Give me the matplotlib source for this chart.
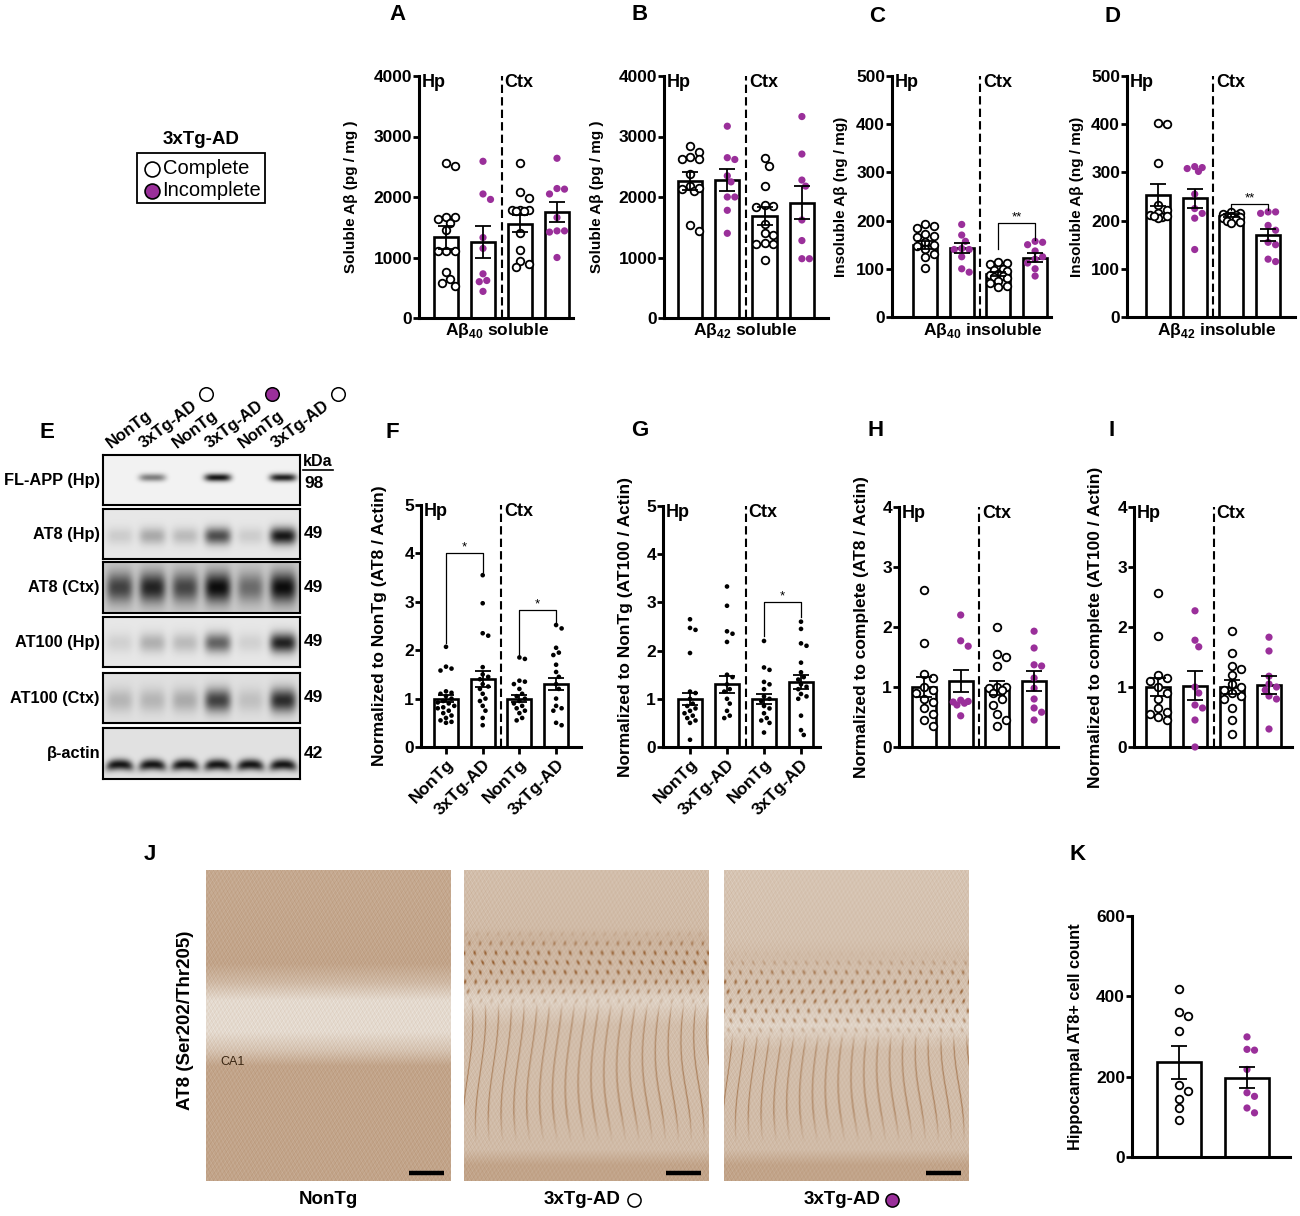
import numpy as np
import matplotlib
matplotlib.use("Agg")
import matplotlib.pyplot as plt
from matplotlib.patches import Rectangle

plt.rcParams['font.family'] = ['Liberation Sans', 'DejaVu Sans']
plt.rcParams['font.weight'] = 'bold'
plt.rcParams['mathtext.fontset'] = 'custom'
plt.rcParams['mathtext.rm'] = 'Liberation Sans:bold'
plt.rcParams['mathtext.bf'] = 'Liberation Sans:bold'

W, H = 1300, 1216
PURPLE = '#9a2f9a'

# ---------------- data ----------------
# A: soluble Abeta40 (pg/mg)  order: Hp complete, Hp incomplete, Ctx complete, Ctx incomplete
A_hp_c = [2510, 2560, 1670, 1640, 1670, 1570, 1450, 1110, 1110, 1110, 760, 650, 530, 580]
A_hp_i = [2590, 2050, 1960, 1330, 1150, 730, 620, 600, 440]
A_ctx_c = [2570, 2080, 1990, 1790, 1780, 1790, 1770, 1770, 1400, 1130, 950, 900, 840]
A_ctx_i = [2640, 2140, 2130, 2050, 1660, 1440, 1440, 1420, 1000]
A_mean = [1335, 1260, 1560, 1755]
A_sem = [190, 260, 140, 165]

# B: soluble Abeta42 (pg/mg)
B_hp_c = [2840, 2740, 2620, 2660, 2620, 2380, 2180, 2100, 2140, 2150, 1530, 1440]
B_hp_i = [3170, 2620, 2650, 2350, 2250, 2000, 2000, 1780, 1400]
B_ctx_c = [2640, 2520, 2180, 1870, 1840, 1850, 1560, 1400, 1380, 1240, 1220, 1230, 960]
B_ctx_i = [3330, 2710, 2280, 2180, 1620, 1280, 980, 980]
B_mean = [2260, 2280, 1685, 1905]
B_sem = [150, 180, 145, 270]

# C: insoluble Abeta40 (ng/mg)
C_hp_c = [192, 185, 188, 172, 168, 165, 155, 150, 148, 142, 130, 125, 102]
C_hp_i = [192, 170, 157, 142, 140, 140, 125, 100, 93]
C_ctx_c = [114, 112, 110, 100, 98, 95, 90, 88, 85, 82, 80, 75, 70, 65, 62]
C_ctx_i = [157, 155, 150, 137, 125, 120, 112, 100, 85]
C_mean = [150, 143, 89, 123]
C_sem = [8, 10, 4, 9]

# D: insoluble Abeta42 (ng/mg)
D_hp_c = [400, 402, 320, 232, 222, 215, 212, 208, 210, 205, 210]
D_hp_i = [310, 308, 312, 302, 255, 225, 215, 205, 140]
D_ctx_c = [218, 215, 214, 212, 210, 210, 208, 205, 203, 200, 198, 195]
D_ctx_i = [218, 218, 215, 190, 180, 155, 150, 120, 115]
D_mean = [253, 246, 210, 170]
D_sem = [22, 20, 3, 13]

# F: AT8 / actin, normalized to NonTg  order: Hp NonTg, Hp 3xTg, Ctx NonTg, Ctx 3xTg
F_hp_ntg = [2.07, 1.66, 1.62, 1.58, 1.15, 1.12, 1.1, 1.05, 1.0, 0.95, 0.92, 0.9, 0.85,
            0.82, 0.8, 0.75, 0.7, 0.65, 0.6, 0.55, 0.5, 0.52]
F_hp_tg = [3.55, 2.97, 2.35, 2.3, 1.65, 1.5, 1.45, 1.4, 1.3, 1.25, 1.2, 1.1, 1.0, 0.95,
           0.85, 0.75, 0.6, 0.45]
F_ctx_ntg = [1.85, 1.82, 1.37, 1.35, 1.3, 1.2, 1.1, 1.05, 1.0, 0.95, 0.9, 0.85, 0.8,
             0.75, 0.7, 0.6, 0.55]
F_ctx_tg = [2.52, 2.45, 2.05, 1.95, 1.9, 1.7, 1.55, 1.45, 1.3, 1.2, 1.0, 0.85, 0.8,
            0.75, 0.5, 0.45]
F_mean = [1.0, 1.4, 1.0, 1.3]
F_sem = [0.08, 0.16, 0.07, 0.13]

# G: AT100 / actin, normalized to NonTg
G_hp_ntg = [2.65, 2.47, 2.43, 1.95, 1.15, 1.12, 1.0, 0.9, 0.85, 0.8, 0.75, 0.7, 0.65,
            0.6, 0.55, 0.5, 0.15]
G_hp_tg = [3.33, 2.93, 2.4, 2.35, 2.18, 1.5, 1.45, 1.3, 1.2, 1.15, 1.0, 0.9, 0.75, 0.65, 0.6]
G_ctx_ntg = [2.2, 1.65, 1.6, 1.35, 1.3, 1.2, 1.05, 1.0, 0.95, 0.85, 0.8, 0.7, 0.6, 0.55,
             0.5, 0.3]
G_ctx_tg = [2.6, 2.45, 2.15, 2.1, 1.75, 1.55, 1.45, 1.4, 1.3, 1.25, 1.2, 1.1, 1.05, 1.0,
            0.65, 0.35, 0.25]
G_mean = [1.0, 1.3, 1.0, 1.35]
G_sem = [0.13, 0.17, 0.1, 0.14]

# H: AT8 / actin, normalized to complete
H_hp_c = [2.62, 1.73, 1.22, 1.15, 1.0, 0.95, 0.9, 0.8, 0.75, 0.65, 0.55, 0.45, 0.35]
H_hp_i = [2.2, 1.77, 1.68, 0.78, 0.76, 0.75, 0.73, 0.7, 0.52]
H_ctx_c = [2.0, 1.55, 1.5, 1.35, 1.0, 1.0, 0.98, 0.95, 0.9, 0.8, 0.7, 0.55, 0.45, 0.35]
H_ctx_i = [1.93, 1.65, 1.37, 1.35, 1.15, 0.98, 0.8, 0.65, 0.58, 0.45]
H_mean = [1.0, 1.1, 0.98, 1.1]
H_sem = [0.16, 0.19, 0.12, 0.17]

# I: AT100 / actin, normalized to complete
I_hp_c = [2.57, 1.85, 1.2, 1.15, 1.1, 1.0, 0.9, 0.8, 0.65, 0.58, 0.55, 0.5, 0.45]
I_hp_i = [2.27, 1.78, 1.67, 1.0, 0.9, 0.7, 0.65, 0.45, 0.0]
I_ctx_c = [1.93, 1.57, 1.35, 1.3, 1.2, 1.05, 1.0, 0.95, 0.9, 0.85, 0.8, 0.65, 0.45, 0.22]
I_ctx_i = [1.83, 1.6, 1.18, 1.05, 1.0, 0.95, 0.85, 0.8, 0.3]
I_mean = [1.0, 1.02, 1.0, 1.04]
I_sem = [0.15, 0.24, 0.12, 0.15]

# K: hippocampal AT8+ cell count
K_c = [418, 352, 362, 313, 180, 165, 145, 122, 91]
K_i = [299, 268, 266, 218, 160, 151, 122, 110]
K_mean = [236, 197]
K_sem = [41, 26]

# E: western blot band darkness per lane (0 = none, 1 = saturated)
blot_rows = ['FL-APP (Hp)', 'AT8 (Hp)', 'AT8 (Ctx)', 'AT100 (Hp)', 'AT100 (Ctx)', 'β-actin']
blot_kda = ['98', '49', '49', '49', '49', '42']
band_fl_app = [0.0, 0.5, 0.0, 0.95, 0.0, 0.9]
band_at8_hp = [0.12, 0.28, 0.2, 0.7, 0.12, 0.95]
band_at8_ctx = [0.72, 0.88, 0.7, 1.0, 0.5, 1.0]
band_at100_hp = [0.1, 0.25, 0.2, 0.6, 0.1, 0.9]
band_at100_ctx = [0.2, 0.2, 0.25, 0.75, 0.15, 0.85]
band_actin = [0.95, 0.95, 0.95, 0.95, 0.95, 0.95]
lane_labels = ['NonTg', '3xTg-AD', 'NonTg', '3xTg-AD', 'NonTg', '3xTg-AD']
lane_marks = [None, 'open', None, 'purple', None, 'open']

fig = plt.figure(figsize=(W / 100, H / 100), dpi=100)


def px_axes(l, t, r, b):
    return fig.add_axes([l / W, 1 - b / H, (r - l) / W, (b - t) / H])


def swarm(vals, h_px, ymax, diam, maxoff):
    # simple beeswarm in pixel space, kept inside the bar
    ys = np.asarray(vals, float) / ymax * h_px
    offs = np.zeros(len(ys))
    placed = []
    step = diam * 0.5
    n = int(maxoff // step)
    cands = [0.0]
    for k in range(1, n + 1):
        cands += [k * step, -k * step]
    for i in np.argsort(-ys):
        best, bestd = 0.0, -1.0
        for cand in cands:
            md = min([np.hypot(cand - px, ys[i] - py) for px, py in placed] or [1e9])
            if md >= diam * 0.92:
                best = cand
                break
            if md > bestd:
                best, bestd = cand, md
        placed.append((best, ys[i]))
        offs[i] = best
    return offs


def bar_panel(rect, bar0, sp, groups, kinds, means, sems, ymax, yticks, ylabel,
              ylabel_x, regions=True, width=0.65, ylab_size=11):
    l, t, r, b = rect
    ax = px_axes(l, t, r, b)
    ax.set_xlim((l - bar0) / sp, (r - bar0) / sp)
    ax.set_ylim(0, ymax)
    xs = np.arange(len(groups))
    ax.bar(xs, means, width=width, facecolor='white', edgecolor='black', linewidth=1.9, zorder=2)
    h_px = b - t
    for x, vals, kind in zip(xs, groups, kinds):
        d = {'open': 8.5, 'purple': 7.5}.get(kind, 5.5)
        offs = swarm(vals, h_px, ymax, d, width * sp * 0.42) / sp
        if kind == 'open':
            ax.scatter(x + offs, vals, s=30, facecolors='white', edgecolors='black',
                       linewidths=1.3, zorder=3, clip_on=False)
        elif kind == 'purple':
            ax.scatter(x + offs, vals, s=27, c=PURPLE, edgecolors='none', zorder=3, clip_on=False)
        else:
            ax.scatter(x + offs, vals, s=11, c='black', edgecolors='none', zorder=3, clip_on=False)
    ax.errorbar(xs, means, yerr=sems, fmt='none', ecolor='black', elinewidth=1.3,
                capsize=5.5, capthick=1.3, zorder=4)
    for s in ['top', 'right']:
        ax.spines[s].set_visible(False)
    for s in ['left', 'bottom']:
        ax.spines[s].set_linewidth(2.2)
    ax.set_yticks(yticks)
    ax.set_yticklabels([str(v) for v in yticks])
    ax.tick_params(axis='y', length=4, width=2, labelsize=12.5, pad=1)
    ax.tick_params(axis='x', bottom=False, labelbottom=False)
    ax.set_ylabel(ylabel, fontsize=ylab_size, fontweight='bold')
    # label x given as the centre of the rotated text
    ax.yaxis.set_label_coords((ylabel_x + 0.5 * ylab_size - l) / (r - l), 0.5)
    if regions:
        ax.axvline(1.5, color='black', lw=1.5, dashes=(4, 2), zorder=1)
        x0 = ax.get_xlim()[0]
        ax.text(x0 + 0.08, ymax * 1.01, 'Hp', ha='left', va='top', fontsize=13)
        ax.text(1.58, ymax * 1.01, 'Ctx', ha='left', va='top', fontsize=13)
    return ax


def bracket(ax, i, j, y, yl, yr, label):
    ax.plot([i, i, j, j], [yl, y, y, yr], color='black', lw=0.9, zorder=5)
    ax.text((i + j) / 2, y, label, ha='center', va='bottom', fontsize=9.5, fontweight='normal')


def fig_text(x, y, s, **kw):
    fig.text(x / W, 1 - y / H, s, **kw)


four = ['open', 'purple', 'open', 'purple']
dots = ['dot', 'dot', 'dot', 'dot']

# ---------------- row 1 ----------------
axA = bar_panel((419, 76, 573, 318), 446, 37, [A_hp_c, A_hp_i, A_ctx_c, A_ctx_i], four,
                A_mean, A_sem, 4000, [0, 1000, 2000, 3000, 4000], 'Soluble Aβ (pg / mg )', 353)
axB = bar_panel((664, 76, 828, 318), 690, 37.3, [B_hp_c, B_hp_i, B_ctx_c, B_ctx_i], four,
                B_mean, B_sem, 4000, [0, 1000, 2000, 3000, 4000], 'Soluble Aβ (pg / mg )', 599)
axC = bar_panel((892, 76, 1051, 317), 925, 36.7, [C_hp_c, C_hp_i, C_ctx_c, C_ctx_i], four,
                C_mean, C_sem, 500, [0, 100, 200, 300, 400, 500], 'Insoluble Aβ (ng / mg)', 843)
axD = bar_panel((1127, 76, 1295, 317), 1158, 36.7, [D_hp_c, D_hp_i, D_ctx_c, D_ctx_i], four,
                D_mean, D_sem, 500, [0, 100, 200, 300, 400, 500], 'Insoluble Aβ (ng / mg)', 1078)
bracket(axC, 2, 3, 194, 142, 159, '**')
bracket(axD, 2, 3, 234, 222, 222, '**')

fig_text(497, 331, 'Aβ$_{\\mathbf{40}}$ soluble', ha='center', va='center', fontsize=12.5)
fig_text(745, 331, 'Aβ$_{\\mathbf{42}}$ soluble', ha='center', va='center', fontsize=12.5)
fig_text(983, 331, 'Aβ$_{\\mathbf{40}}$ insoluble', ha='center', va='center', fontsize=12.5)
fig_text(1217, 331, 'Aβ$_{\\mathbf{42}}$ insoluble', ha='center', va='center', fontsize=12.5)

# ---------------- row 2 ----------------
axF = bar_panel((421, 505, 581, 747), 446, 36.7, [F_hp_ntg, F_hp_tg, F_ctx_ntg, F_ctx_tg], dots,
                F_mean, F_sem, 5, [0, 1, 2, 3, 4, 5], 'Normalized to NonTg (AT8 / Actin)', 381,
                ylab_size=12.5)
axG = bar_panel((663, 506, 820, 747), 690, 37, [G_hp_ntg, G_hp_tg, G_ctx_ntg, G_ctx_tg], dots,
                G_mean, G_sem, 5, [0, 1, 2, 3, 4, 5], 'Normalized to NonTg (AT100 / Actin)', 627,
                ylab_size=12.5)
axH = bar_panel((899, 507, 1058, 747), 924, 36.7, [H_hp_c, H_hp_i, H_ctx_c, H_ctx_i], four,
                H_mean, H_sem, 4, [0, 1, 2, 3, 4], 'Normalized to complete (AT8 / Actin)', 863,
                ylab_size=12.5)
axI = bar_panel((1134, 507, 1292, 747), 1158, 37, [I_hp_c, I_hp_i, I_ctx_c, I_ctx_i], four,
                I_mean, I_sem, 4, [0, 1, 2, 3, 4], 'Normalized to complete (AT100 / Actin)', 1097,
                ylab_size=12.5)
bracket(axF, 0, 1, 4.0, 2.14, 3.62, '*')
bracket(axF, 2, 3, 2.83, 1.9, 2.55, '*')
bracket(axG, 2, 3, 3.0, 2.3, 2.7, '*')
for ax in (axF, axG):
    ax.set_xticks(range(4))
    ax.set_xticklabels(['NonTg', '3xTg-AD', 'NonTg', '3xTg-AD'], rotation=45, ha='right',
                       rotation_mode='anchor', fontsize=12.5)
    ax.tick_params(axis='x', bottom=True, labelbottom=True, length=5, width=2, pad=2)

# ---------------- K ----------------
axK = bar_panel((1132, 916, 1290, 1157), 1179, 68, [K_c, K_i], ['open', 'purple'],
                K_mean, K_sem, 600, [0, 200, 400, 600], 'Hippocampal AT8+ cell count', 1077,
                regions=False, width=0.66, ylab_size=11.8)

# ---------------- E: western blot ----------------
strips = [(455, 505), (509, 559), (562, 613), (617, 667), (673, 723), (728, 779)]
band_sets = [band_fl_app, band_at8_hp, band_at8_ctx, band_at100_hp, band_at100_ctx, band_actin]
band_y = [0.45, 0.55, 0.5, 0.52, 0.55, 0.72]
band_sig = [0.08, 0.17, 0.3, 0.2, 0.24, 0.11]
band_bg = [0.05, 0.1, 0.22, 0.1, 0.13, 0.12]
bl, br = 103, 300
for (t, b), levels, yc, sg, bg, name, kda in zip(strips, band_sets, band_y, band_sig, band_bg,
                                                 blot_rows, blot_kda):
    ax = px_axes(bl, t, br, b)
    hh, ww = b - t, br - bl
    yy, xx = np.mgrid[0:1:hh * 1j, 0:1:ww * 1j]
    img = np.full((hh, ww), bg)
    for k, lev in enumerate(levels):
        cx = (k + 0.5) / 6
        lane = np.exp(-np.abs((xx - cx) / 0.068) ** 4)
        yc_k = yc + 0.06 * ((xx - cx) / 0.08) ** 2 if name == 'β-actin' else yc
        prof = np.exp(-((yy - yc_k) / sg) ** 2)
        img = img + (1 - bg) * lev * lane * prof
    ax.imshow(np.clip(img, 0, 1), cmap='gray_r', vmin=0, vmax=1.05, aspect='auto',
              interpolation='bilinear')
    ax.set_xticks([])
    ax.set_yticks([])
    for s in ax.spines.values():
        s.set_linewidth(1.5)
    fig_text(100, (t + b) / 2, name, ha='right', va='center', fontsize=11.8)
    fig_text(304, (t + b) / 2 + (3 if name.startswith('FL') else 0), kda, ha='left',
             va='center', fontsize=12.5)
fig_text(303, 461, 'kDa', ha='left', va='center', fontsize=11.5)
lane_w = (br - bl) / 6
for k, lab in enumerate(lane_labels):
    cx = bl + (k + 0.5) * lane_w
    fig_text(cx - 8, 449, lab, rotation=37, ha='left', va='baseline',
             rotation_mode='anchor', fontsize=12)

# ---------------- J: micrographs ----------------
WHITE = np.array([238, 233, 226]) / 255
BROWN = np.array([140, 80, 30]) / 255


def micrograph(kind, h=311, w=245):
    yy, xx = np.mgrid[0:1:h * 1j, 0:1:w * 1j]
    if kind == 0:
        ky = [0, .3, .36, .42, .52, .58, .63, 1]
        kd = [.42, .45, .32, .1, .1, .25, .45, .45]
    elif kind == 1:
        ky = [0, .18, .22, .35, .42, .5, .9, .95, 1]
        kd = [.28, .3, .35, .3, .15, .28, .3, .45, .45]
    else:
        ky = [0, .22, .28, .4, .5, .58, .9, .95, 1]
        kd = [.24, .26, .3, .25, .14, .28, .3, .45, .45]
    d = np.interp(yy, ky, kd)
    d = d + 0.05 * np.sin(2 * np.pi * (61 * xx + 7 * yy)) * np.sin(2 * np.pi * (47 * yy - 5 * xx))
    d = d + 0.03 * np.sin(2 * np.pi * 113 * xx) * np.cos(2 * np.pi * 97 * yy)
    if kind > 0:
        c0, c1 = (0.22, 0.42) if kind == 1 else (0.3, 0.52)
        win = np.exp(-((yy - (c0 + c1) / 2) / ((c1 - c0) / 2)) ** 4)
        cell = np.clip(np.sin(2 * np.pi * 23 * xx + 2 * np.sin(2 * np.pi * 5 * yy)) *
                       np.sin(2 * np.pi * 16 * yy), 0, None) ** 3
        d = d + 0.6 * cell * win
        stri = np.clip(np.sin(2 * np.pi * (19 * xx + 0.4 * np.sin(2 * np.pi * 1.5 * yy + 3 * xx))),
                       0, None) ** 14
        swin = np.clip((yy - c1) / 0.05, 0, 1) * np.clip((0.88 - yy) / 0.1, 0, 1)
        d = d + 0.35 * stri * swin
    d = np.clip(d, 0, 1)[..., None]
    return np.clip(WHITE * (1 - d) + BROWN * d, 0, 1)


img_rects = [(206, 870, 451, 1181), (464, 870, 708, 1181), (724, 870, 968, 1181)]
for k, (l, t, r, b) in enumerate(img_rects):
    ax = px_axes(l, t, r, b)
    im = micrograph(k, h=b - t, w=r - l)
    ax.imshow(im, aspect='auto', interpolation='bilinear')
    ax.plot([r - l - 43, r - l - 8], [b - t - 9, b - t - 9], color='black', lw=3.2,
            solid_capstyle='butt')
    ax.axis('off')
fig_text(233, 1062, 'CA1', ha='center', va='center', fontsize=9, color='#3a2612',
         fontweight='normal')
fig_text(186, 1020, 'AT8 (Ser202/Thr205)', rotation=90, ha='center', va='center', fontsize=13.5)
fig_text(328, 1200, 'NonTg', ha='center', va='center', fontsize=13.5)
fig_text(620, 1200, '3xTg-AD', ha='right', va='center', fontsize=13.5)
fig_text(880, 1200, '3xTg-AD', ha='right', va='center', fontsize=13.5)

# ---------------- panel letters ----------------
letters = {'A': (397, 15), 'B': (640, 15), 'C': (877, 17), 'D': (1113, 17), 'E': (47, 432),
           'F': (392, 432), 'G': (640, 430), 'H': (876, 430), 'I': (1112, 430),
           'J': (150, 855), 'K': (1078, 855)}
for s, (x, y) in letters.items():
    fig_text(x, y, s, ha='center', va='center', fontsize=16)

# ---------------- overlay: legend, circles ----------------
ov = fig.add_axes([0, 0, 1, 1])
ov.set_xlim(0, W)
ov.set_ylim(H, 0)
ov.axis('off')
ov.add_patch(Rectangle((137, 153), 128, 50, fill=False, lw=1.3, ec='black'))
ov.text(201, 140, '3xTg-AD', ha='center', va='center', fontsize=13.5)
ov.scatter([152], [169], s=115, facecolors='white', edgecolors='black', linewidths=1.2)
ov.scatter([152], [191], s=115, c=PURPLE, edgecolors='black', linewidths=1.2)
ov.text(163, 169, 'Complete', ha='left', va='center', fontsize=14.5, fontweight='normal')
ov.text(162, 191, 'Incomplete', ha='left', va='center', fontsize=14.5, fontweight='normal')
ov.plot([303, 333], [470, 470], color='black', lw=1.2)
for k, mk in enumerate(lane_marks):
    if mk is None:
        continue
    cx = bl + (k + 0.5) * lane_w + 54
    if mk == 'open':
        ov.scatter([cx], [394], s=95, facecolors='white', edgecolors='black', linewidths=1.1)
    else:
        ov.scatter([cx], [394], s=95, c=PURPLE, edgecolors='black', linewidths=1.1)
ov.scatter([634], [1200], s=90, facecolors='white', edgecolors='black', linewidths=1.1)
ov.scatter([892], [1200], s=90, c=PURPLE, edgecolors='black', linewidths=1.1)

fig.savefig('out.png', dpi=100)
